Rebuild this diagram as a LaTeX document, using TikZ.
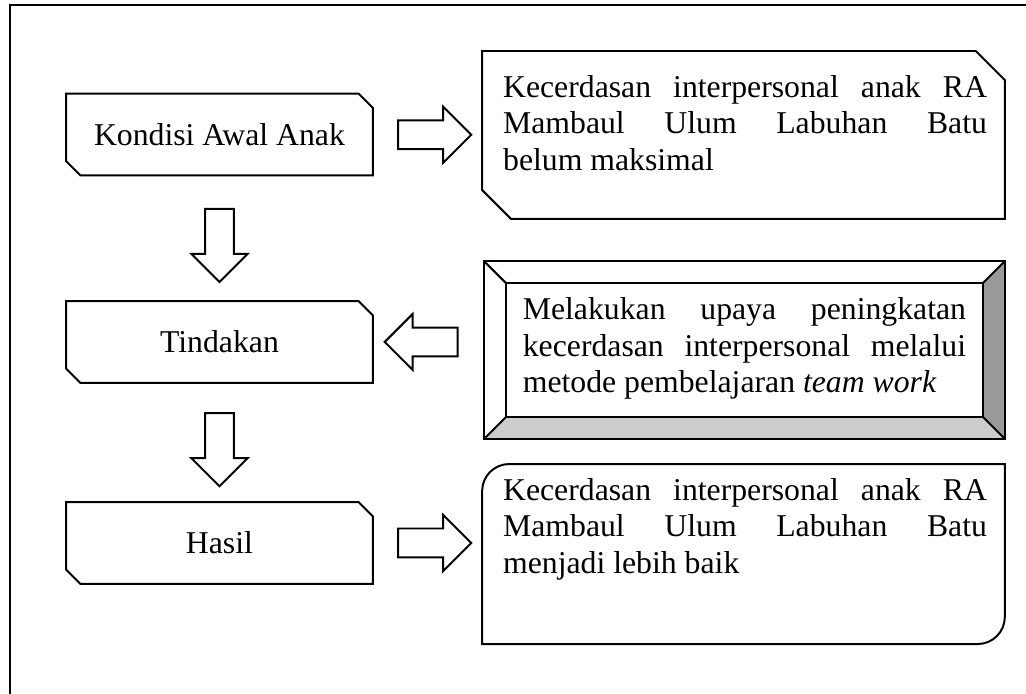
\documentclass[tikz,border=0pt]{standalone}
\usepackage{fontspec}
\setmainfont{Liberation Serif}
\usetikzlibrary{shapes.arrows,calc}
\tolerance=9999

\begin{document}
\begin{tikzpicture}[line width=0.75pt,
	box/.style={minimum width=4.05cm,minimum height=1.06cm,inner sep=0pt,font=\fontsize{12}{13.8}\selectfont},
	wide/.style={minimum width=6.92cm,inner sep=0pt},
	txt/.style={anchor=north west,inner sep=0pt,align=justify,text width=6.43cm,font=\fontsize{12}{13.8}\selectfont},
	blok/.style={single arrow,draw,minimum height=0.97cm,single arrow head extend=0.18cm,inner xsep=0pt,inner ysep=0.179cm},
	blok down/.style={blok,shape border rotate=270,inner xsep=0.179cm,inner ysep=0pt}]

\useasboundingbox (0,0) rectangle (13.636,-9.223);
\clip (0,0) rectangle (13.636,-9.223);
\draw[line width=1.1pt] (0.133,-0.066) rectangle (14,-10);

% left column
\node[box] (kondisi) at (2.917,-1.787) {Kondisi Awal Anak};
\node[box] (tindakan) at (2.917,-4.545) {Tindakan};
\node[box] (hasil) at (2.917,-7.216) {Hasil};

% right column
\node[wide,minimum height=2.206cm] (masalah) at (9.881,-1.794) {};
\node[wide,minimum width=6.9cm,minimum height=2.34cm] (upaya) at (9.894,-4.652) {};
\node[wide,minimum height=2.366cm] (baik) at (9.881,-7.363) {};

\foreach \n/\c in {kondisi/0.19cm,tindakan/0.19cm,hasil/0.19cm,masalah/0.385cm}
	\draw (\n.north west) -- ([xshift=-\c]\n.north east) -- ([yshift=-\c]\n.north east)
		-- (\n.south east) -- ([xshift=\c]\n.south west) -- ([yshift=\c]\n.south west) -- cycle;

% bevel frame
\coordinate (i1) at ([shift={(0.29,-0.29)}]upaya.north west);
\coordinate (i2) at ([shift={(-0.29,-0.29)}]upaya.north east);
\coordinate (i3) at ([shift={(-0.29,0.29)}]upaya.south east);
\coordinate (i4) at ([shift={(0.29,0.29)}]upaya.south west);
\fill[black!40] (upaya.north east) -- (upaya.south east) -- (i3) -- (i2) -- cycle;
\fill[black!20] (upaya.south west) -- (upaya.south east) -- (i3) -- (i4) -- cycle;
\draw (upaya.north west) rectangle (upaya.south east);
\draw (i1) rectangle (i3);
\draw (upaya.north west) -- (i1) (upaya.north east) -- (i2)
	(upaya.south east) -- (i3) (upaya.south west) -- (i4);

\draw (baik.south west) -- ([yshift=-0.36cm]baik.north west) arc[start angle=180,end angle=90,radius=0.36cm]
	-- (baik.north east) -- ([yshift=0.36cm]baik.south east) arc[start angle=0,end angle=-90,radius=0.36cm] -- cycle;

\node[txt] (masalah text) at ([shift={(0.266,-0.306)}]masalah.north west)
	{Kecerdasan interpersonal anak RA\linebreak Mambaul Ulum Labuhan Batu\linebreak belum maksimal};
\node[txt,text width=5.89cm] (upaya text) at ([shift={(0.505,-0.478)}]upaya.north west)
	{Melakukan upaya peningkatan\linebreak kecerdasan interpersonal melalui\linebreak metode pembelajaran \textit{team work}};
\node[txt] (baik text) at ([shift={(0.266,-0.173)}]baik.north west)
	{Kecerdasan interpersonal anak RA\linebreak Mambaul Ulum Labuhan Batu\linebreak menjadi lebih baik};

% block arrows
\node[blok down] (a1) at ($(kondisi.south)!.5!(tindakan.north)$) {};
\node[blok down] (a2) at ($(tindakan.south)!.5!(hasil.north)$) {};
\node[blok] (a3) at ($(kondisi.east)!.5!(masalah.west)$) {};
\node[blok,shape border rotate=180] (a4) at ($(tindakan.east)!.5!(tindakan.east -| upaya.west)$) {};
\node[blok] (a5) at ($(hasil.east)!.5!(hasil.east -| baik.west)$) {};
\end{tikzpicture}
\end{document}
